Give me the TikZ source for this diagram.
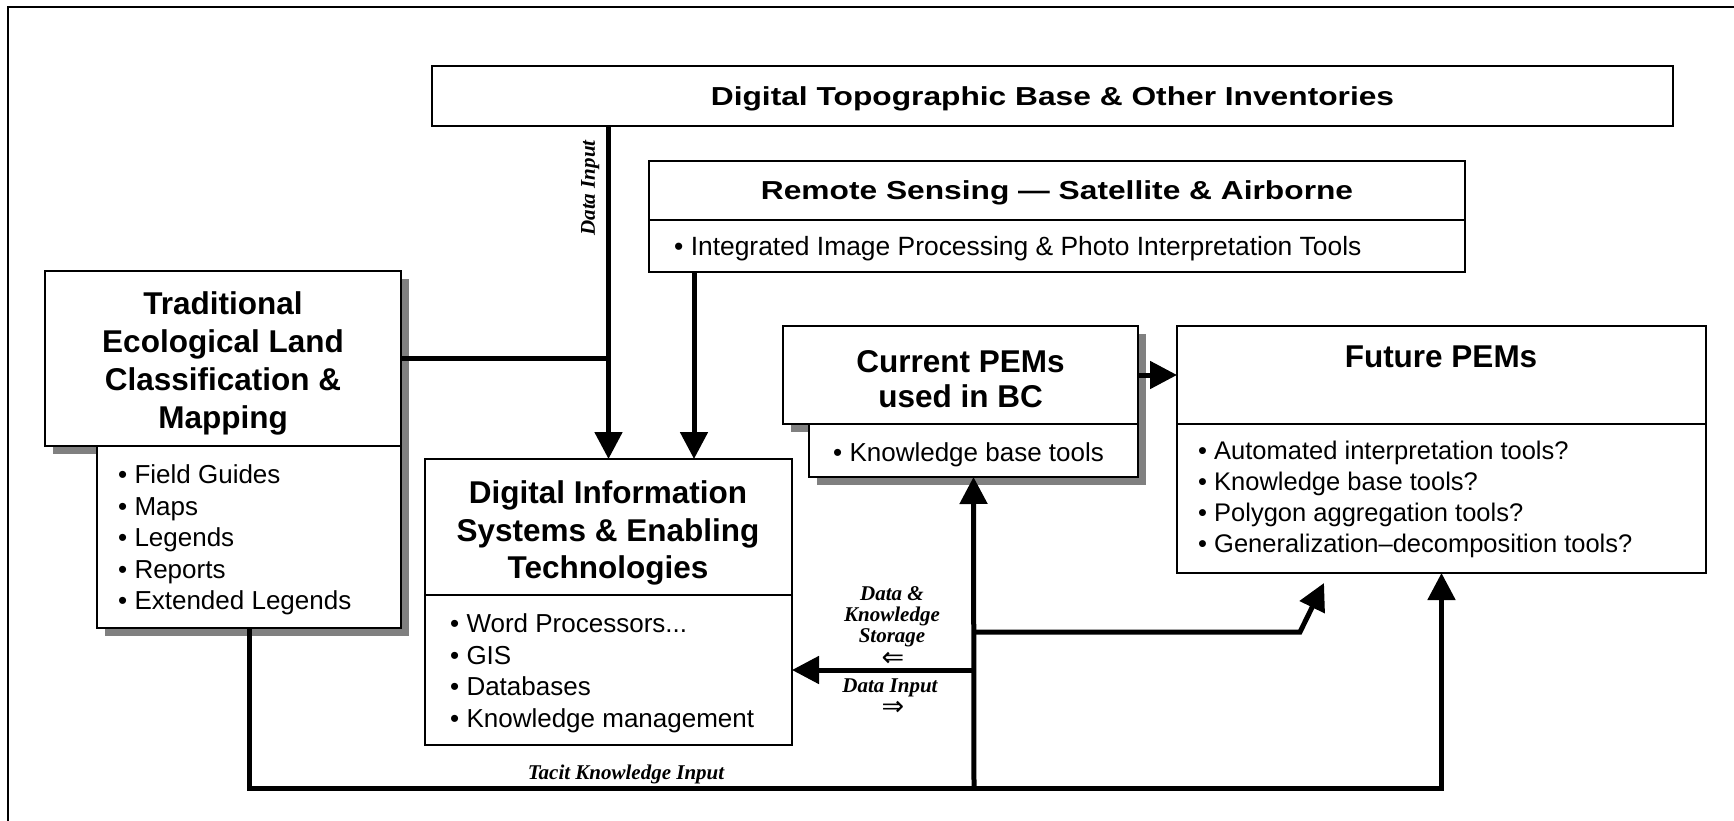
\documentclass[tikz,border=0pt]{standalone}
\usepackage{fontspec}
\setmainfont{Liberation Sans}
\newfontfamily\widefont{Liberation Sans}[FakeStretch=1.22]
\newfontfamily\lblfont{Liberation Serif}
\newfontfamily\symfont{DejaVu Sans}
\usetikzlibrary{arrows.meta,shadows}
\tikzset{
  box/.style={draw=black, line width=2pt, fill=white, inner sep=0pt, outer sep=0pt},
  shbox/.style={box, drop shadow={shadow xshift=8pt, shadow yshift=-8pt, fill=black!50, opacity=1}},
  ttl/.style={font=\bfseries\fontsize{31.5}{38}\selectfont, align=center, inner sep=0pt, anchor=north},
  wide/.style={font=\widefont\bfseries\fontsize{26}{30}\selectfont, inner sep=0pt, text depth=0pt},
  lst/.style={font=\fontsize{26}{31.5}\selectfont, align=left, inner sep=0pt, anchor=north west},
  one/.style={font=\fontsize{26}{30}\selectfont, inner sep=0pt, anchor=west, text depth=0pt},
  lbl/.style={font=\lblfont\bfseries\itshape\fontsize{21}{21}\selectfont, align=center, inner sep=0pt},
  sym/.style={font=\symfont\fontsize{27}{27}\selectfont, inner sep=0pt, anchor=base, text height=0.5em, text depth=0pt},
  line/.style={line width=5pt},
  conn/.style={line width=5pt, -{Triangle[length=27pt,width=27pt]}},
}
\begin{document}
\begin{tikzpicture}[x=1pt,y=-1pt]
\fill[white] (0,0) rectangle (1734,821);
\useasboundingbox (0,0) rectangle (1734,821);
% frame
\draw[line width=2pt] (8,821) -- (8,7) -- (1734,7);

% boxes
\node[box, minimum width=1241pt, minimum height=60pt] (topbox) at (1052.5,96) {};
\node[box, minimum width=816pt, minimum height=59pt] (remH) at (1057,190.5) {};
\node[box, minimum width=816pt, minimum height=52pt] (remB) at (1057,246) {};
\node[shbox, minimum width=356pt, minimum height=175pt] (tradH) at (223,358.5) {};
\node[shbox, minimum width=304pt, minimum height=182pt] (tradB) at (249,537) {};
\node[shbox, minimum width=355pt, minimum height=98pt] (curH) at (960.5,375) {};
\node[shbox, minimum width=329pt, minimum height=53pt] (curB) at (973.5,450.5) {};
\node[box, minimum width=529pt, minimum height=98pt] (futH) at (1441.5,375) {};
\node[box, minimum width=529pt, minimum height=149pt] (futB) at (1441.5,498.5) {};
\node[box, minimum width=367pt, minimum height=136pt] (digH) at (608.5,527) {};
\node[box, minimum width=367pt, minimum height=150pt] (digB) at (608.5,670) {};

% texts
\node[wide] (topT) at (1052.5,96) {Digital Topographic Base \& Other Inventories};
\node[wide] (remT) at (1057,190.5) {Remote Sensing — Satellite \& Airborne};
\node[one, font=\fontsize{26.4}{30}\selectfont] (remL) at (674,246) {• Integrated Image Processing \& Photo Interpretation Tools};
\node[ttl] (tradT) at (223,291.7) {Traditional\\Ecological Land\\Classification \&\\Mapping};
\node[lst] (tradL) at (118,464.5) {• Field Guides\\• Maps\\• Legends\\• Reports\\• Extended Legends};
\node[ttl, font=\bfseries\fontsize{31.5}{35}\selectfont] (curT) at (960.5,350.7) {Current PEMs\\used in BC};
\node[one] (curL) at (833,452) {• Knowledge base tools};
\node[ttl, anchor=center, text depth=0pt] (futT) at (1441,357) {Future PEMs};
\node[lst, font=\fontsize{25.5}{31}\selectfont] (futL) at (1198,440.5) {• Automated interpretation tools?\\• Knowledge base tools?\\• Polygon aggregation tools?\\• Generalization–decomposition tools?};
\node[ttl, font=\bfseries\fontsize{31.5}{37.5}\selectfont] (digT) at (608,480.7) {Digital Information\\Systems \& Enabling\\Technologies};
\node[lst] (digL) at (450,613.5) {• Word Processors...\\• GIS\\• Databases\\• Knowledge management};

% labels
\node[lbl, rotate=90, text depth=0pt] (lblA) at (588,188) {Data Input};
\node[lbl, anchor=north] (lblB) at (892,586) {Data \&\\Knowledge\\Storage};
\node[sym] (arrL) at (893,666) {⇐};
\node[lbl, text depth=0pt] (lblC) at (890,686) {Data Input};
\node[sym] (arrR) at (893,715) {⇒};
\node[lbl, text depth=0pt] (lblD) at (626,772) {Tacit Knowledge Input};

% helper coordinates
\coordinate (rx) at (694,0);
\coordinate (bot) at (974,788);
\coordinate (br) at (1300,632);
\coordinate (fa) at (1324,583);

% connectors
\draw[conn] (topbox.south -| digH.north) -- (digH.north);
\draw[line] (tradH.east) -- (tradH.east -| digH.north);
\draw[conn] (remB.south -| rx) -- (digH.north -| rx);
\draw[conn] (curH.east) -- (curH.east -| futH.west);
\draw[conn] (tradB.south) |- (bot) -| (futB.south);
\draw[conn] (bot) -- (curB.south);
\draw[conn] (bot |- digB.east) -- (digB.east);
\draw[conn] (bot |- br) -- (br) -- (fa);
\end{tikzpicture}
\end{document}
